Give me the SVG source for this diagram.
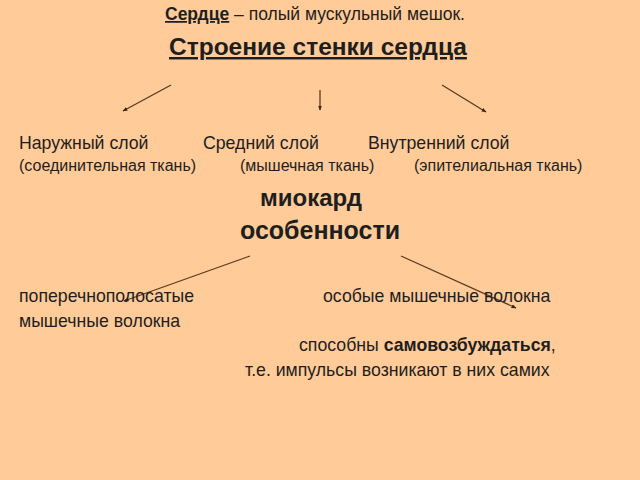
<svg xmlns="http://www.w3.org/2000/svg" width="640" height="480" viewBox="0 0 640 480">
<defs>
<style>
text{font-family:"Liberation Sans",Arial,sans-serif;fill:#1e1e1e}
.b{font-weight:bold}
.u{text-decoration:underline}
.l1{font-size:17.7px}
.l2{font-size:16px}
.ln{stroke:#5a3a1e;stroke-width:1.3;fill:none;marker-end:url(#ah)}
</style>
<marker id="ah" viewBox="0 0 10 10" refX="9" refY="5" markerWidth="5" markerHeight="5" orient="auto" markerUnits="userSpaceOnUse"><path d="M0,1 L10,5 L0,9 z" fill="#3a2410"/></marker>
</defs>
<rect width="640" height="480" fill="#FFCB99"/>
<g id="title">
<text x="165" y="20" style="font-size:17.5px"><tspan class="b u">Сердце</tspan> – полый мускульный мешок.</text>
<text x="169" y="55" class="b u" style="font-size:24.5px">Строение стенки сердца</text>
</g>
<g id="connectors">
<line class="ln" x1="171" y1="85" x2="123" y2="111"/>
<line class="ln" x1="320" y1="90" x2="320" y2="110"/>
<line class="ln" x1="442" y1="85" x2="486" y2="112"/>
<line class="ln" x1="250" y1="256" x2="124" y2="301"/>
<line class="ln" x1="401" y1="256" x2="516" y2="308"/>
</g>
<g id="outer">
<text x="19" y="149" class="l1">Наружный слой</text>
<text x="19" y="171" class="l2">(соединительная ткань)</text>
</g>
<g id="middle">
<text x="203" y="149" class="l1">Средний слой</text>
<text x="240" y="171" class="l2">(мышечная ткань)</text>
</g>
<g id="inner">
<text x="368" y="149" class="l1">Внутренний слой</text>
<text x="414" y="171" class="l2">(эпителиальная ткань)</text>
</g>
<g id="myocard">
<text x="311" y="206" class="b" text-anchor="middle" style="font-size:24px">миокард</text>
</g>
<g id="features">
<text x="320" y="239" class="b" text-anchor="middle" style="font-size:25px">особенности</text>
</g>
<g id="striated">
<text x="19" y="302" class="l1">поперечнополосатые</text>
<text x="19" y="327" class="l1">мышечные волокна</text>
</g>
<g id="special">
<text x="323" y="302" class="l1">особые мышечные волокна</text>
<text x="299" y="351" class="l1">способны <tspan class="b">самовозбуждаться</tspan>,</text>
<text x="245" y="376" class="l1">т.е. импульсы возникают в них самих</text>
</g>
</svg>
